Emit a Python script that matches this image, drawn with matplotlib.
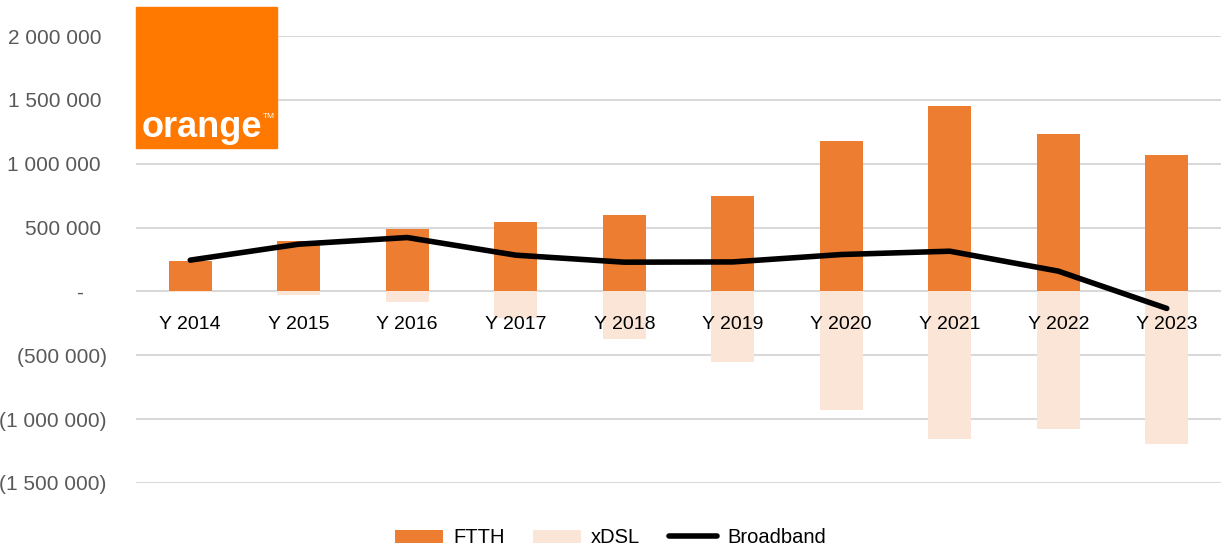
import matplotlib
matplotlib.use("Agg")
import matplotlib.pyplot as plt
from matplotlib.patches import Rectangle
from matplotlib.ticker import FuncFormatter, MultipleLocator
import numpy as np

plt.rcParams['font.family'] = ['Liberation Sans', 'DejaVu Sans']

years = ['Y 2014', 'Y 2015', 'Y 2016', 'Y 2017', 'Y 2018',
         'Y 2019', 'Y 2020', 'Y 2021', 'Y 2022', 'Y 2023']
ftth = [240000, 392000, 487000, 541000, 601000,
        745000, 1180000, 1455000, 1231000, 1070000]
xdsl = [-8000, -26000, -81000, -206000, -375000,
        -550000, -927000, -1156000, -1081000, -1193000]
broadband = [245000, 370000, 422000, 284000, 229000,
             231000, 289000, 315000, 159000, -133000]

FTTH_C = '#ED7D31'
XDSL_C = '#FBE5D6'
GRID_C = '#D9D9D9'
LABEL_C = '#595959'

fig = plt.figure(figsize=(12.29, 5.49), dpi=100)
ax = fig.add_axes([136 / 1229, 1 - 483 / 549, (1221 - 136) / 1229, (483 - 36) / 549])

x = np.arange(len(years))
b1 = ax.bar(x, ftth, width=0.4, color=FTTH_C, label='FTTH', zorder=2)
b2 = ax.bar(x, xdsl, width=0.4, color=XDSL_C, label='xDSL', zorder=2)
l1, = ax.plot(x, broadband, color='black', lw=4, solid_capstyle='round',
              solid_joinstyle='round', label='Broadband', zorder=4)

ax.set_xlim(-0.5, len(years) - 0.5)
ax.set_ylim(-1500000, 2000000)
ax.yaxis.set_major_locator(MultipleLocator(500000))


def fmt(v, pos):
    if abs(v) < 1:
        return '-    '
    s = '{:,.0f}'.format(abs(v)).replace(',', ' ')
    if v < 0:
        return '(' + s + ')'
    return s + ' '


ax.yaxis.set_major_formatter(FuncFormatter(fmt))
ax.tick_params(axis='y', length=0, pad=21, labelsize=15, labelcolor=LABEL_C)
ax.set_xticks([])
ax.grid(axis='y', color=GRID_C, lw=1.5)
ax.set_axisbelow(True)
for s in ax.spines.values():
    s.set_visible(False)

# category labels sit just under the zero line
for i, lab in enumerate(years):
    ax.annotate(lab, (x[i], 0), xytext=(0, -18), textcoords='offset points',
                ha='center', va='top', fontsize=14, color='black', zorder=5)

# orange logo
fig.patches.append(Rectangle((136 / 1229, 1 - 148 / 549), 141 / 1229, 141 / 549,
                             transform=fig.transFigure, color='#FF7900',
                             zorder=10))
fig.text(142 / 1229, 1 - 137 / 549, 'orange', color='white', fontsize=26,
         fontweight='bold', va='baseline', ha='left', zorder=11)
fig.text(263 / 1229, 1 - 118 / 549, 'TM', color='white', fontsize=6,
         va='baseline', ha='left', zorder=11)

leg = fig.legend([b1, b2, l1], ['FTTH', 'xDSL', 'Broadband'],
                 loc='lower center', bbox_to_anchor=(0.4965, -0.03), ncol=3,
                 frameon=False, fontsize=14.5, handlelength=2.4, handleheight=0.65,
                 handletextpad=0.5, columnspacing=1.4)

fig.savefig('out.png', dpi=100)
